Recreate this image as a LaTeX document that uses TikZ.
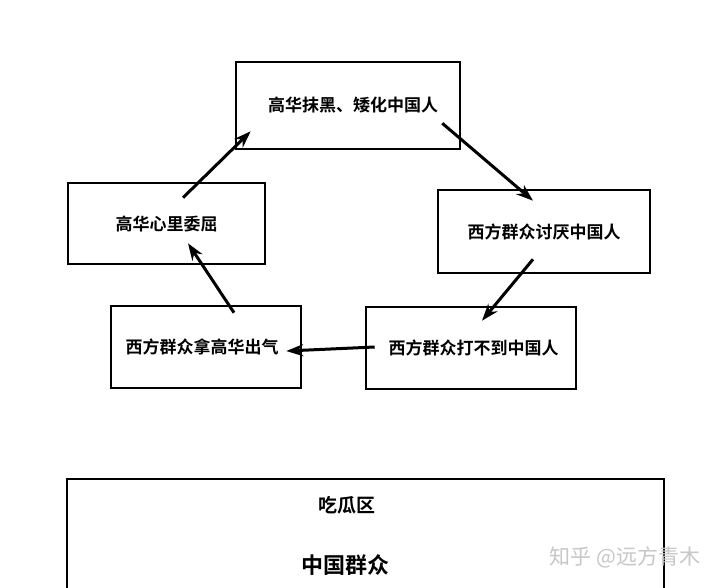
\documentclass[tikz,border=0pt]{standalone}
\usepackage{fontspec}
\setmainfont{Noto Sans CJK SC}[BoldFont={Noto Sans CJK SC Bold}]
\usetikzlibrary{arrows.meta}
\begin{document}
\begin{tikzpicture}[x=1pt,y=-1pt,
  box/.style={draw=black,line width=2.6pt,rectangle,inner sep=0pt,font=\bfseries\fontsize{17}{19}\selectfont},
  arr/.style={line width=3pt,-{Stealth[length=17pt,width=12pt]}},
  lbl/.style={inner sep=0pt,font=\bfseries}]
\useasboundingbox (0,0) rectangle (720,587);
\clip (0,0) rectangle (720,587);
\fill[white] (0,0) rectangle (720,587);
\node[box,minimum width=224pt,minimum height=87pt] (top) at (348,105.5) {\hspace*{10pt}高华抹黑、矮化中国人};
\node[box,minimum width=197pt,minimum height=81pt] (left) at (166.5,223.5) {高华心里委屈};
\node[box,minimum width=212pt,minimum height=83pt] (right) at (544,231.5) {西方群众讨厌中国人};
\node[box,minimum width=190pt,minimum height=82pt] (bl) at (206,347) {\hspace*{-8pt}西方群众拿高华出气};
\node[box,minimum width=210pt,minimum height=82pt] (br) at (471,348) {\hspace*{5pt}西方群众打不到中国人};
\node[draw=black,line width=2.6pt,rectangle,minimum width=597pt,minimum height=140pt,inner sep=0pt] (big) at (365.5,549) {};
\node[lbl,font=\bfseries\fontsize{19}{21}\selectfont] (eat) at (347,505) {吃瓜区};
\node[lbl,font=\bfseries\fontsize{22}{24}\selectfont] (cn) at (345,565) {中国群众};
\node[inner sep=0pt,text=black!22,font=\fontsize{21}{23}\selectfont] (wm) at (625,557) {知乎 @远方青木};
\draw[arr] ([xshift=16.5pt,yshift=-16pt]left.north) -- ([xshift=16pt,yshift=19pt]top.south west);
\draw[arr] ([xshift=-19pt,yshift=27pt]top.south east) -- ([xshift=-11pt,yshift=-12pt]right.north);
\draw[arr] ([xshift=-11pt,yshift=15pt]right.south) -- ([xshift=11pt,yshift=-15pt]br.north);
\draw[arr] ([xshift=10pt,yshift=1pt]br.west) -- ([xshift=-16pt,yshift=-4pt]bl.east);
\draw[arr] ([xshift=28pt,yshift=-8pt]bl.north) -- ([xshift=21.5pt,yshift=22pt]left.south);
\end{tikzpicture}
\end{document}
